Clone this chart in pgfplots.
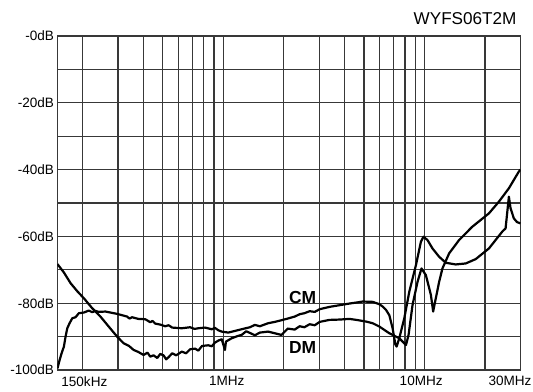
\documentclass[border=0pt]{standalone}
\usepackage{pgfplots}
\pgfplotsset{compat=1.18}
\usepackage{fontspec}
\setmainfont{Liberation Sans}

\begin{document}
\begin{tikzpicture}
\begin{axis}[
  xmode=log, scale only axis, width=463bp, height=334bp,
  xmin=0.15, xmax=30, ymin=-100, ymax=0,
  xtick={0.2,0.3,0.4,0.5,0.6,0.7,0.8,0.9,1,2,3,4,5,6,7,8,9,10,20},
  xticklabels={},
  minor xtick={}, xminorgrids=false,
  ytick={-100,-90,...,0},
  yticklabels={-100dB,,-80dB,,-60dB,,-40dB,,-20dB,,-0dB},
  xmajorgrids, ymajorgrids,
  major tick length=0pt,
  grid style={black!78, line width=1.15bp},
  axis line style={black!78, line width=1.15bp},
  tick label style={font=\fontsize{13.6}{14}\selectfont},
  clip=true,
]
\coordinate (SW) at (rel axis cs:0,0);
\coordinate (NE) at (rel axis cs:1,1);
\coordinate (L1) at (axis cs:0.204,-100);
\coordinate (L2) at (axis cs:1.04,-100);
\coordinate (L3) at (axis cs:9.63,-100);
\coordinate (L4) at (axis cs:26.6,-100);
\coordinate (CMpos) at (axis cs:2.48,-78.4);
\coordinate (DMpos) at (axis cs:2.48,-93.4);

% Curve A
\addplot[black, line width=2.2bp, line join=round] coordinates {
(0.150,-99.5) (0.1537,-97) (0.1572,-95) (0.1614,-93) (0.1645,-90) (0.1678,-87.5)
(0.1722,-86) (0.1777,-84.5) (0.1844,-84.2) (0.1915,-83) (0.2027,-82.8) (0.2146,-82.2)
(0.2231,-82.7) (0.2317,-82.3) (0.2405,-82.6) (0.2597,-82.5) (0.2802,-82.9) (0.2967,-83.2)
(0.3141,-83.6) (0.3324,-84.0) (0.3420,-84.6) (0.3520,-84.2) (0.3782,-84.7) (0.4097,-84.8)
(0.4336,-85.7) (0.4450,-85.3) (0.4589,-86.1) (0.4860,-86.4) (0.5145,-86.9) (0.5350,-86.6)
(0.5572,-87.3) (0.6222,-87.5) (0.6841,-87.2) (0.7200,-87.7) (0.7518,-87.5) (0.8116,-87.3)
(0.8761,-87.8) (0.9100,-87.4) (0.9446,-88.1) (0.9819,-88.5) (1.0587,-88.8) (1.1427,-88.3)
(1.2336,-87.8) (1.3559,-87.2) (1.4355,-86.5) (1.5200,-86.9) (1.6703,-86.0) (1.8030,-85.6)
(1.9455,-85.1) (2.0907,-84.6) (2.2646,-84.0) (2.3972,-83.3) (2.5300,-83.0) (2.6867,-82.4)
(2.8500,-82.6) (3.0115,-81.8) (3.3749,-81.1) (3.7822,-80.6) (4.2390,-80.1) (4.5909,-79.8)
(4.9329,-79.5) (5.5274,-79.6) (5.9688,-80.3) (6.1948,-81.0) (6.4397,-82.0) (6.6869,-83.6)
(6.9434,-87.5) (7.1614,-92.3) (7.2678,-93.0) (7.4945,-90.5) (7.9370,-84.5) (8.4010,-76.6)
(9.0676,-68.6) (9.5985,-61.6) (9.8860,-60.1) (10.349,-61.1) (10.955,-63.6) (11.825,-66.1)
(12.762,-67.9) (14.301,-68.4) (16.033,-68.1) (17.969,-66.8) (20.911,-63.6) (24.330,-58.6)
(25.29,-57.6) (26.264,-48.1) (26.78,-51.6) (27.8,-54.6) (28.8,-55.7) (30,-56.1)
};

% Curve B
\addplot[black, line width=2.2bp, line join=round] coordinates {
(0.150,-68.3) (0.1614,-70.8) (0.1742,-74.0) (0.1880,-76.4) (0.2027,-78.5) (0.2231,-81.5)
(0.2452,-84.0) (0.2696,-87.0) (0.2967,-90.0) (0.3198,-92.0) (0.3400,-92.8) (0.3585,-94.0)
(0.3782,-94.6) (0.4018,-95.5) (0.4200,-94.8) (0.4336,-96.0) (0.4501,-95.6) (0.4700,-96.4)
(0.4860,-95.2) (0.5046,-95.6) (0.5200,-96.8) (0.5342,-96.2) (0.5572,-95.0) (0.5830,-95.6)
(0.6222,-94.5) (0.6535,-95.0) (0.6841,-93.8) (0.7244,-93.6) (0.7518,-94.2) (0.7845,-92.8)
(0.8427,-92.6) (0.8761,-92.9) (0.9097,-91.8) (0.9446,-91.2) (0.9819,-90.8) (1.0195,-94.0)
(1.031,-91.5) (1.1005,-90.5) (1.1824,-89.8) (1.2336,-89.5) (1.3000,-88.4) (1.3559,-88.9)
(1.4355,-89.6) (1.5196,-88.8) (1.6703,-88.5) (1.8030,-89.0) (1.9455,-89.5) (2.0907,-87.6)
(2.2646,-87.9) (2.3972,-86.9) (2.5300,-87.2) (2.6867,-86.3) (2.8500,-86.6) (3.0115,-85.6)
(3.3749,-85.0) (3.7822,-84.9) (4.2390,-84.7) (4.5909,-85.0) (5.1274,-85.5) (5.5274,-86.0)
(5.9688,-87.0) (6.6869,-89.0) (7.4945,-90.5) (7.9370,-92.0) (8.0920,-92.5) (8.3340,-89.5)
(8.7225,-80.5) (9.2340,-73.6) (9.6630,-69.6) (10.160,-71.6) (10.757,-77.5) (11.043,-82.5)
(11.297,-79.5) (11.825,-73.6) (12.277,-69.6) (13.253,-65.1) (14.851,-61.1) (17.285,-57.1)
(20.911,-53.1) (23.432,-49.6) (26.264,-45.6) (29.43,-40.6) (30,-40.0)
};
\end{axis}
\begin{scope}[every node/.style={inner sep=0pt, font=\fontsize{13.6}{14}\selectfont}]
\node[anchor=north] at ([yshift=-6bp]L1) {150kHz};
\node[anchor=north] at ([yshift=-6bp]L2) {1MHz};
\node[anchor=north] at ([yshift=-6bp]L3) {10MHz};
\node[anchor=north] at ([yshift=-6bp]L4) {30MHz};
\end{scope}
\node[font=\bfseries\fontsize{17.5}{18}\selectfont] at (CMpos) {CM};
\node[font=\bfseries\fontsize{17.5}{18}\selectfont] at (DMpos) {DM};
\node[anchor=south east, inner sep=0pt, font=\fontsize{17.2}{18}\selectfont] at ([xshift=-3.8bp,yshift=11bp]NE) {WYFS06T2M};
\pgfresetboundingbox
\path[use as bounding box] ([xshift=-57.5bp,yshift=-22bp]SW) rectangle ([xshift=12.5bp,yshift=36bp]NE);
\end{tikzpicture}
\end{document}
